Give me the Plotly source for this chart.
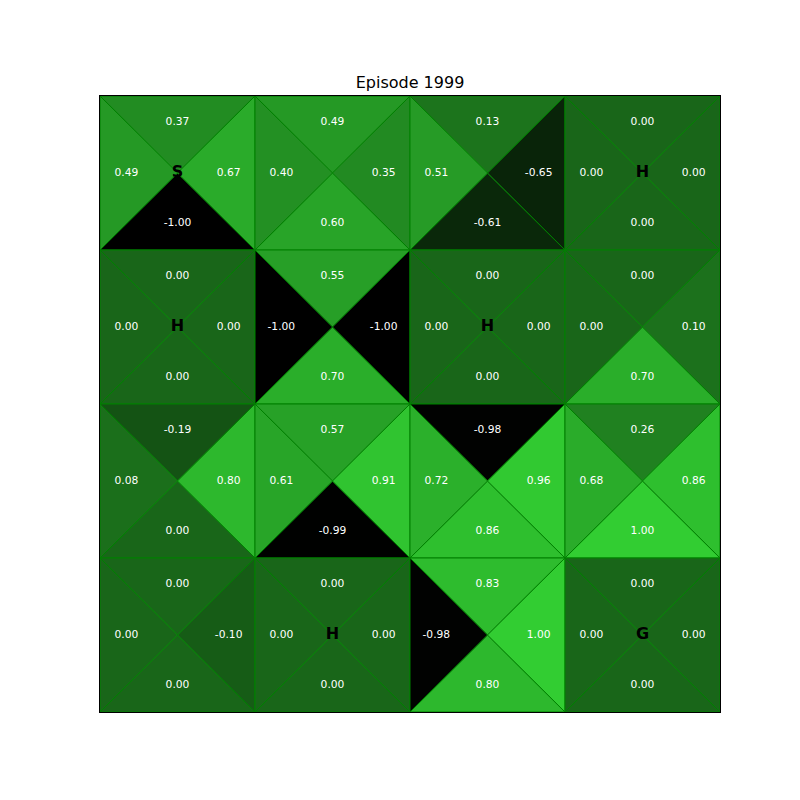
import plotly.graph_objects as go

# Q-values per cell, rows top->bottom, cols left->right
q_up = [
    [0.37, 0.49, 0.13, 0.00],
    [0.00, 0.55, 0.00, 0.00],
    [-0.19, 0.57, -0.98, 0.26],
    [0.00, 0.00, 0.83, 0.00],
]
q_down = [
    [-1.00, 0.60, -0.61, 0.00],
    [0.00, 0.70, 0.00, 0.70],
    [0.00, -0.99, 0.86, 1.00],
    [0.00, 0.00, 0.80, 0.00],
]
q_left = [
    [0.49, 0.40, 0.51, 0.00],
    [0.00, -1.00, 0.00, 0.00],
    [0.08, 0.61, 0.72, 0.68],
    [0.00, 0.00, -0.98, 0.00],
]
q_right = [
    [0.67, 0.35, -0.65, 0.00],
    [0.00, -1.00, 0.00, 0.10],
    [0.80, 0.91, 0.96, 0.86],
    [-0.10, 0.00, 1.00, 0.00],
]
cell_labels = [
    ["S", "", "", "H"],
    ["H", "", "H", ""],
    ["", "", "", ""],
    ["", "H", "", "G"],
]
title = "Episode 1999"


def color(v):
    t = (v + 1.0) / 2.0
    t = max(0.0, min(1.0, t))
    return "rgb(%d,%d,%d)" % (round(50 * t), round(205 * t), round(50 * t))


fig = go.Figure()
n = 4
tx, ty, tt = [], [], []
for r in range(n):
    for c in range(n):
        x0, x1, y0, y1 = c, c + 1, r, r + 1
        cx, cy = c + 0.5, r + 0.5
        tris = [
            (q_up[r][c], [x0, x1, cx, x0], [y0, y0, cy, y0], (cx, cy - 0.33)),
            (q_down[r][c], [x0, x1, cx, x0], [y1, y1, cy, y1], (cx, cy + 0.33)),
            (q_left[r][c], [x0, x0, cx, x0], [y0, y1, cy, y0], (cx - 0.33, cy)),
            (q_right[r][c], [x1, x1, cx, x1], [y0, y1, cy, y0], (cx + 0.33, cy)),
        ]
        for v, xs, ys, (lx, ly) in tris:
            fig.add_trace(go.Scatter(
                x=xs, y=ys, mode="lines", fill="toself",
                fillcolor=color(v), line=dict(color="green", width=1),
                hoverinfo="skip", showlegend=False))
            tx.append(lx)
            ty.append(ly)
            tt.append("%.2f" % v)

fig.add_trace(go.Scatter(
    x=tx, y=ty, text=tt, mode="text",
    textfont=dict(color="white", size=10.7, family="DejaVu Sans"),
    hoverinfo="skip", showlegend=False))

lx, ly, lt = [], [], []
for r in range(n):
    for c in range(n):
        if cell_labels[r][c]:
            lx.append(c + 0.5)
            ly.append(r + 0.5)
            lt.append("<b>%s</b>" % cell_labels[r][c])
fig.add_trace(go.Scatter(
    x=lx, y=ly, text=lt, mode="text",
    textfont=dict(color="black", size=16, family="DejaVu Sans"),
    hoverinfo="skip", showlegend=False))

fig.update_layout(
    width=800, height=800,
    margin=dict(l=100, r=80, t=96, b=88),
    paper_bgcolor="white", plot_bgcolor="white",
    title=dict(text=title, x=0.5125, xanchor="center", y=1 - 82 / 800,
               yanchor="middle",
               font=dict(family="DejaVu Sans", size=16, color="black")),
    xaxis=dict(range=[0, n], showgrid=False, zeroline=False, showticklabels=False,
               ticks="", showline=True, mirror=True, linecolor="black", linewidth=1),
    yaxis=dict(range=[n, 0], showgrid=False, zeroline=False, showticklabels=False,
               ticks="", showline=True, mirror=True, linecolor="black", linewidth=1),
)
fig.write_html("out.html")
